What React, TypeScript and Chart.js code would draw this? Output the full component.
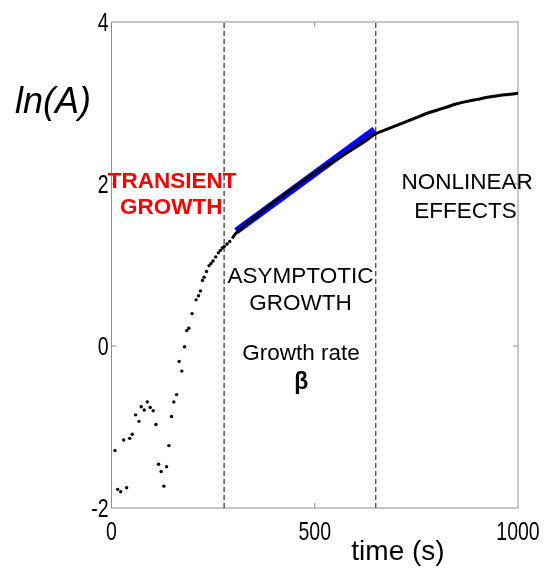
import React, { useEffect, useRef } from "react";
import { Chart, registerables } from "chart.js";

Chart.register(...registerables);

// Early, sparsely sampled amplitude measurements
const sampleTimes = [
  8.6, 15.2, 22.6, 29.9, 37.3, 44.7, 51.0, 59.4, 67.5, 73.1, 80.5, 87.9, 95.2,
  102.6, 109.2, 115.8, 122.2, 128.8, 135.5, 141.1, 147.7, 153.4, 160.0, 166.4,
  173.0, 179.6, 185.0, 190.2, 198.3, 208.1, 214.0, 218.9, 223.8, 227.8, 233.6,
  240.0, 244.9, 249.8, 256.4, 262.9, 267.9, 272.8, 277.7, 284.2, 290.8,
];
const sampleLnA = [
  -1.29, -1.77, -1.8, -1.16, -1.75, -1.14, -1.09, -0.85, -0.93, -0.75, -0.79,
  -0.69, -0.76, -0.8, -0.97, -1.46, -1.55, -1.73, -1.49, -1.23, -0.87, -0.69,
  -0.6, -0.19, -0.31, -0.01, 0.19, 0.22, 0.4, 0.57, 0.62, 0.68, 0.81, 0.85,
  0.92, 0.99, 1.02, 1.05, 1.1, 1.15, 1.18, 1.21, 1.23, 1.26, 1.29,
];

// Densely sampled part of the record
const curveTimes = [
  297, 304, 325, 350, 375, 400, 425, 450, 475, 500, 525, 550, 575, 600, 625,
  650, 675, 700, 725, 750, 775, 800, 825, 850, 875, 900, 925, 950, 975, 1000,
];
const curveLnA = [
  1.33, 1.38, 1.48, 1.58, 1.68, 1.78, 1.87, 1.96, 2.05, 2.14, 2.22, 2.29, 2.37,
  2.45, 2.53, 2.62, 2.67, 2.72, 2.77, 2.82, 2.87, 2.91, 2.95, 2.99, 3.02, 3.045,
  3.07, 3.09, 3.105, 3.12,
];

// Linear fit over the asymptotic-growth window
const fitTimes = [307, 647];
const fitLnA = [1.42, 2.67];

// Boundaries between growth regimes (s)
const regimeBounds = [277, 650];

const xTickValues = [0, 500, 1000];
const yTickValues = [-2, 0, 2, 4];
const xRange = [0, 1000];
const yRange = [-2, 4];

const pts = (xs: number[], ys: number[]) => xs.map((x, i) => ({ x, y: ys[i] }));

const SANS = "'Liberation Sans', Arial, sans-serif";

// Tick labels use a horizontally squeezed sans face
const drawNarrow = (
  ctx: CanvasRenderingContext2D,
  s: string,
  x: number,
  y: number,
  align: CanvasTextAlign
) => {
  ctx.save();
  ctx.translate(x, y);
  ctx.scale(0.78, 1);
  ctx.textAlign = align;
  ctx.textBaseline = "alphabetic";
  ctx.fillText(s, 0, 0);
  ctx.restore();
};

const framePlugin = {
  id: "frameAndNotes",
  beforeDatasetsDraw(chart: any) {
    const { ctx, chartArea: a, scales } = chart;
    const xs = scales.x;
    const ys = scales.y;
    ctx.save();
    ctx.strokeStyle = "#8f8f8f";
    ctx.lineWidth = 1;
    ctx.strokeRect(a.left, a.top, a.right - a.left, a.bottom - a.top);
    const tick = 5;
    ctx.beginPath();
    xTickValues.forEach((v) => {
      if (v === xRange[0] || v === xRange[1]) return;
      const px = xs.getPixelForValue(v);
      ctx.moveTo(px, a.bottom);
      ctx.lineTo(px, a.bottom - tick);
      ctx.moveTo(px, a.top);
      ctx.lineTo(px, a.top + tick);
    });
    yTickValues.forEach((v) => {
      if (v === yRange[0] || v === yRange[1]) return;
      const py = ys.getPixelForValue(v);
      ctx.moveTo(a.left, py);
      ctx.lineTo(a.left + tick, py);
      ctx.moveTo(a.right, py);
      ctx.lineTo(a.right - tick, py);
    });
    ctx.stroke();

    // tick labels
    ctx.fillStyle = "#000";
    ctx.font = `25px ${SANS}`;
    xTickValues.forEach((v) => {
      drawNarrow(ctx, String(v), xs.getPixelForValue(v), a.bottom + 32, "center");
    });
    yTickValues.forEach((v) => {
      drawNarrow(ctx, String(v), a.left - 3, ys.getPixelForValue(v) + 9, "right");
    });
    ctx.restore();
  },
  afterDraw(chart: any) {
    const { ctx, scales } = chart;
    const xs = scales.x;
    const ys = scales.y;
    const text = (
      s: string,
      t: number,
      v: number,
      font: string,
      color: string
    ) => {
      ctx.font = font;
      ctx.fillStyle = color;
      ctx.textAlign = "center";
      ctx.textBaseline = "alphabetic";
      ctx.fillText(s, xs.getPixelForValue(t), ys.getPixelForValue(v));
    };
    ctx.save();
    const bold = `bold 22.5px ${SANS}`;
    const reg = `22.5px ${SANS}`;
    text("TRANSIENT", 149, 1.947, bold, "#ff0000");
    text("GROWTH", 147, 1.628, bold, "#ff0000");
    text("ASYMPTOTIC", 465, 0.782, reg, "#000");
    text("GROWTH", 465, 0.45, reg, "#000");
    text("Growth rate", 466, -0.175, reg, "#000");
    text("β", 467, -0.53, `bold 23px ${SANS}`, "#000");
    text("NONLINEAR", 875, 1.935, reg, "#000");
    text("EFFECTS", 871, 1.579, reg, "#000");

    // axis titles
    ctx.fillStyle = "#000";
    ctx.textBaseline = "alphabetic";
    ctx.textAlign = "left";
    ctx.font = `italic 36px ${SANS}`;
    ctx.fillText("ln(A)", 15, 113);
    ctx.textAlign = "center";
    ctx.font = `28px ${SANS}`;
    ctx.fillText("time (s)", 398, 560);
    ctx.restore();
  },
};

export default function App() {
  const ref = useRef<HTMLCanvasElement | null>(null);

  useEffect(() => {
    document.body.style.margin = "0";
    const canvas = ref.current;
    if (!canvas) return;

    const boundaryDatasets = regimeBounds.map((b, i) => ({
      type: "line" as const,
      data: pts([b, b], yRange),
      borderColor: i === 0 ? "#000" : "#555",
      borderWidth: i === 0 ? 1 : 1.4,
      borderDash: [5, 3],
      pointRadius: 0,
      order: 3,
    }));

    const chart = new Chart(canvas, {
      type: "scatter",
      data: {
        datasets: [
          {
            type: "scatter",
            data: pts(sampleTimes, sampleLnA),
            backgroundColor: "#000",
            borderWidth: 0,
            pointRadius: 1.7,
            order: 0,
          },
          {
            type: "line",
            data: pts(curveTimes, curveLnA),
            borderColor: "#000",
            borderWidth: 3,
            pointRadius: 0,
            tension: 0.3,
            order: 0,
          },
          {
            type: "line",
            data: pts(fitTimes, fitLnA),
            borderColor: "#0000ff",
            borderWidth: 7,
            borderCapStyle: "butt",
            pointRadius: 0,
            order: 2,
          },
          ...boundaryDatasets,
        ] as any,
      },
      options: {
        animation: false,
        responsive: false,
        events: [],
        layout: { padding: { left: 0, top: 22, right: 28, bottom: 0 } },
        plugins: {
          legend: { display: false },
          tooltip: { enabled: false },
          title: { display: false },
        },
        scales: {
          x: {
            type: "linear",
            min: xRange[0],
            max: xRange[1],
            grid: { display: false },
            border: { display: false },
            afterBuildTicks: (s: any) => {
              s.ticks = xTickValues.map((value) => ({ value }));
            },
            afterFit: (s: any) => {
              s.height = 68;
            },
            ticks: { display: false },
          },
          y: {
            type: "linear",
            min: yRange[0],
            max: yRange[1],
            grid: { display: false },
            border: { display: false },
            afterBuildTicks: (s: any) => {
              s.ticks = yTickValues.map((value) => ({ value }));
            },
            afterFit: (s: any) => {
              s.width = 111.5;
            },
            ticks: { display: false },
          },
        },
      },
      plugins: [framePlugin],
    });

    return () => chart.destroy();
  }, []);

  return (
    <div style={{ width: 546, height: 576 }}>
      <canvas ref={ref} width={546} height={576} style={{ display: "block" }} />
    </div>
  );
}
